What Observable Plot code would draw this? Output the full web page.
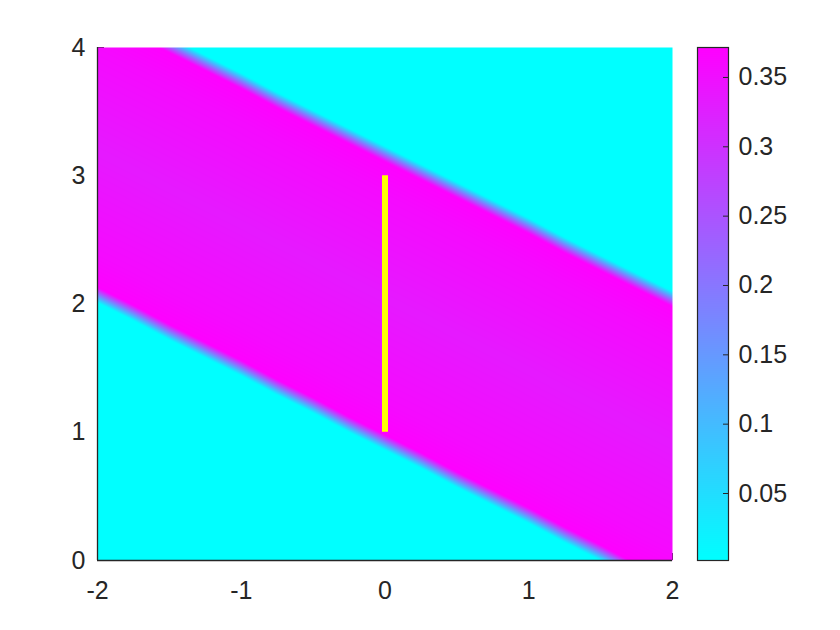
<!DOCTYPE html>
<html><head><meta charset="utf-8">
<script src="https://cdn.jsdelivr.net/npm/d3@7"></script>
<script src="https://cdn.jsdelivr.net/npm/@observablehq/plot@0.6"></script>
<style>
html,body{margin:0;padding:0;background:#fff;}
#chart{display:flex;width:840px;height:630px;background:#fff;}
#chart svg{flex:none;}
</style></head><body><div id="chart"></div>
<script>
// Sample columns (x) and the centre of each band edge
const gridX      = [-2.5, -2.25, -2, -1.75, -1.5, -1.25, -1, -0.75, -0.5, -0.25, 0, 0.25, 0.5, 0.75, 1, 1.25, 1.5, 1.75, 2, 2.25, 2.5];
const lowerEdgeY = [2.36, 2.21, 2.07, 1.93, 1.78, 1.64, 1.50, 1.35, 1.21, 1.06, 0.92, 0.78, 0.63, 0.49, 0.35, 0.20, 0.06, -0.09, -0.23, -0.37, -0.52];
const upperEdgeY = [4.58, 4.44, 4.30, 4.16, 4.02, 3.88, 3.74, 3.59, 3.45, 3.31, 3.17, 3.03, 2.89, 2.75, 2.61, 2.46, 2.32, 2.18, 2.04, 1.90, 1.76];
// cross-band profile: distance from the nearer edge (negative = outside the band) and value
const profileOffset = [-4, -2.5, -1.2, -0.5, -0.06, 0.06, 0.3];
const profileValue  = [0.0017, 0.0017, 0.0017, 0.0017, 0.0017, 0.370, 0.358];
const bandCenterValue = 0.335;

const colorDomain = [0.0017, 0.3716];
const xTicks = [-2, -1, 0, 1, 2];
const yTicks = [0, 1, 2, 3, 4];
const cbTicks = [0.05, 0.1, 0.15, 0.2, 0.25, 0.3, 0.35];
const cbTickLabels = ["0.05", "0.1", "0.15", "0.2", "0.25", "0.3", "0.35"];
const sourceX = [0];
const sourceY = [1, 3];

const samples = [];
gridX.forEach((x, i) => {
  const yl = lowerEdgeY[i], yu = upperEdgeY[i];
  profileOffset.forEach((o, k) => {
    samples.push({x, y: yl + o, v: profileValue[k]});
    samples.push({x, y: yu - o, v: profileValue[k]});
  });
  samples.push({x, y: (yl + yu) / 2, v: bandCenterValue});
});

const ink = "#262626";
const font = {fontFamily: "'Liberation Sans', Arial, Helvetica, sans-serif", fontSize: "25px", color: ink, background: "white", overflow: "visible"};
const color = {type: "linear", domain: colorDomain, range: ["#00ffff", "#ff00ff"], interpolate: "rgb", clamp: true};

const main = Plot.plot({
  width: 690, height: 630, marginLeft: 97, marginRight: 18, marginTop: 47, marginBottom: 70,
  style: font,
  x: {domain: [-2, 2]}, y: {domain: [0, 4]}, color,
  marks: [
    Plot.tickX(xTicks, {x: d => d, insetTop: 506, stroke: ink}),
    Plot.tickY(yTicks, {y: d => d, insetRight: 568, stroke: ink}),
    Plot.raster(samples, {x: "x", y: "y", fill: "v", interpolate: "barycentric", x1: -2, x2: 2, y1: 0, y2: 4, pixelSize: 1}),
    Plot.ruleX(sourceX, {x: d => d, y1: sourceY[0], y2: sourceY[1], stroke: "#ffff00", strokeWidth: 6}),
    Plot.ruleX([xTicks[0]], {x: d => d, stroke: ink, strokeWidth: 1.3}),
    Plot.ruleY([yTicks[0]], {y: d => d, stroke: ink, strokeWidth: 1.3}),
    Plot.axisX(xTicks, {tickSize: 0, tickPadding: 21, tickFormat: d => String(d), label: null}),
    Plot.axisY(yTicks, {tickSize: 0, tickPadding: 12, tickFormat: d => String(d), label: null})
  ]
});

const cb = Plot.plot({
  width: 150, height: 630, marginLeft: 7, marginRight: 112, marginTop: 47, marginBottom: 70,
  style: font,
  x: {domain: [0, 1], axis: null}, y: {domain: colorDomain}, color,
  marks: [
    Plot.raster({fill: (x, y) => y, x1: 0, x2: 1, y1: colorDomain[0], y2: colorDomain[1], pixelSize: 1}),
    Plot.tickY(cbTicks, {y: d => d, insetLeft: 26, stroke: ink}),
    Plot.frame({stroke: ink, strokeWidth: 1.2}),
    Plot.axisY(cbTicks, {anchor: "right", tickSize: 0, tickPadding: 10, tickFormat: d => cbTickLabels[cbTicks.indexOf(d)], label: null})
  ]
});

const host = document.getElementById("chart");
host.appendChild(main);
host.appendChild(cb);
</script>
</body></html>
